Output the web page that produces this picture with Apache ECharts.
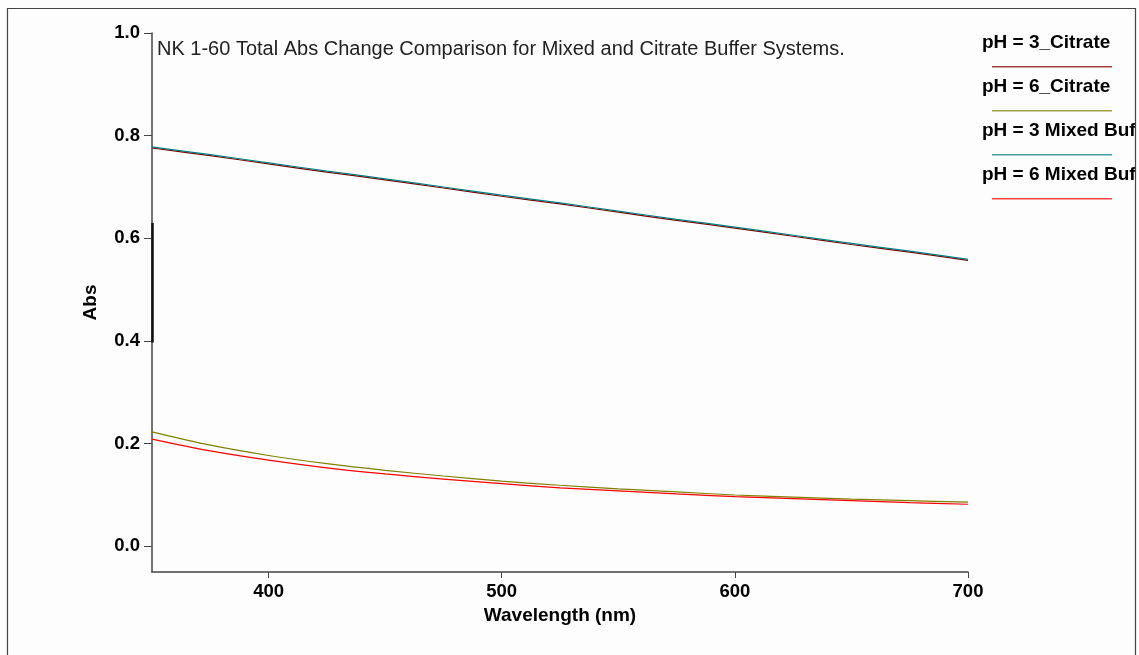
<!DOCTYPE html>
<html>
<head>
<meta charset="utf-8">
<title>NK 1-60 Total Abs Change</title>
<script src="https://cdn.jsdelivr.net/npm/echarts@6/dist/echarts.min.js"></script>
<style>
  html, body { margin: 0; padding: 0; background: #fdfdfd; }
  #chart { width: 1139px; height: 655px; }
</style>
</head>
<body>
<div id="chart"></div>
<script>
// Wavelength grid (nm) and absorbance per buffer system
const wavelengths = [350, 375, 400, 425, 450, 475, 500, 525, 550, 575, 600, 625, 650, 675, 700];
const ph3Citrate = [0.776, 0.761, 0.745, 0.729, 0.714, 0.698, 0.682, 0.667, 0.651, 0.635, 0.620, 0.604, 0.588, 0.573, 0.557];
const ph6Citrate = [0.223, 0.197, 0.177, 0.161, 0.148, 0.137, 0.127, 0.119, 0.112, 0.106, 0.100, 0.096, 0.092, 0.089, 0.086];
const ph3Mixed   = [0.778, 0.763, 0.747, 0.731, 0.716, 0.700, 0.684, 0.669, 0.653, 0.637, 0.622, 0.606, 0.590, 0.575, 0.559];
const ph6Mixed   = [0.209, 0.186, 0.168, 0.153, 0.141, 0.131, 0.122, 0.114, 0.108, 0.102, 0.097, 0.093, 0.089, 0.085, 0.082];

const seriesNames = ['pH = 3_Citrate', 'pH = 6_Citrate', 'pH = 3 Mixed Buffer', 'pH = 6 Mixed Buffer'];
const seriesValues = [ph3Citrate, ph6Citrate, ph3Mixed, ph6Mixed];
const seriesColors = ['#800000', '#808000', '#008080', '#ff0000'];

const xTicks = [400, 500, 600, 700];
const yTicks = [0, 0.2, 0.4, 0.6, 0.8, 1.0];

// heavier stretch of the Abs axis line
const axisMarkRange = [0.397, 0.63];

const titleText = 'NK 1-60 Total Abs Change Comparison for Mixed and Citrate Buffer Systems.';
const xName = 'Wavelength (nm)';
const yName = 'Abs';

const FONT = '"Liberation Sans", Arial, sans-serif';
const axisColor = '#444';

function pairs(values) {
  return wavelengths.map((w, i) => [w, values[i]]);
}

// draw the pH 6 pair first, then the pH 3 pair with mixed buffer above citrate
const drawOrder = [3, 1, 0, 2];
const series = drawOrder.map(i => ({
  name: seriesNames[i],
  type: 'line',
  data: pairs(seriesValues[i]),
  showSymbol: false,
  symbol: 'none',
  smooth: 0.3,
  color: seriesColors[i],
  lineStyle: { color: seriesColors[i], width: 1.2 },
  z: 2 + i,
  animation: false
}));

series[0].markLine = {
  silent: true,
  symbol: ['none', 'none'],
  label: { show: false },
  lineStyle: { color: '#111', width: 2.5, type: 'solid' },
  data: [[
    { coord: [wavelengths[0], axisMarkRange[0]] },
    { coord: [wavelengths[0], axisMarkRange[1]] }
  ]],
  animation: false
};

const chart = echarts.init(document.getElementById('chart'), null, { renderer: 'canvas' });

chart.setOption({
  backgroundColor: '#fdfdfd',
  animation: false,
  title: {
    text: titleText,
    left: 157,
    top: 39,
    padding: 0,
    textStyle: { fontFamily: FONT, fontSize: 20, fontWeight: 'normal', color: '#222' }
  },
  legend: [
    {
      // names
      data: seriesNames,
      orient: 'vertical',
      left: 977,
      top: 33,
      padding: 0,
      icon: 'none',
      itemWidth: 0,
      itemHeight: 0,
      itemGap: 24,
      selectedMode: false,
      textStyle: { fontFamily: FONT, fontSize: 19, fontWeight: 'bold', color: '#000', lineHeight: 20 }
    },
    {
      // sample strokes beneath each name
      data: seriesNames,
      orient: 'vertical',
      left: 992,
      top: 66,
      padding: 0,
      icon: 'rect',
      itemWidth: 120,
      itemHeight: 1.5,
      itemGap: 42.5,
      selectedMode: false,
      formatter: () => '',
      itemStyle: { opacity: 0.75 },
      textStyle: { fontSize: 1 }
    }
  ],
  grid: { left: 152, right: 171, top: 33, bottom: 83, containLabel: false },
  xAxis: {
    type: 'value',
    min: 350,
    max: 700,
    name: xName,
    nameLocation: 'middle',
    nameGap: 32,
    nameTextStyle: { fontFamily: FONT, fontSize: 19, fontWeight: 'bold', color: '#000' },
    axisLine: { show: true, onZero: false, lineStyle: { color: axisColor, width: 1.5 } },
    axisTick: { show: true, length: 6, customValues: xTicks, lineStyle: { color: axisColor, width: 1 } },
    axisLabel: {
      customValues: xTicks,
      margin: 10,
      fontFamily: FONT, fontSize: 18.5, fontWeight: 'bold', color: '#000'
    },
    splitLine: { show: false }
  },
  yAxis: {
    type: 'value',
    min: -0.05,
    max: 1.0,
    name: yName,
    nameLocation: 'middle',
    nameGap: 52,
    nameRotate: 90,
    nameTextStyle: { fontFamily: FONT, fontSize: 19, fontWeight: 'bold', color: '#000' },
    axisLine: { show: true, onZero: false, lineStyle: { color: axisColor, width: 1.5 } },
    axisTick: { show: true, length: 8, customValues: yTicks, lineStyle: { color: axisColor, width: 1 } },
    axisLabel: {
      customValues: yTicks,
      margin: 12,
      formatter: v => v.toFixed(1),
      fontFamily: FONT, fontSize: 18.5, fontWeight: 'bold', color: '#000'
    },
    splitLine: { show: false }
  },
  series: series,
  graphic: [
    {
      type: 'rect',
      z: 100,
      silent: true,
      shape: { x: 1136, y: 0, width: 10, height: 655 },
      style: { fill: '#fdfdfd' }
    },
    {
      type: 'rect',
      z: 101,
      silent: true,
      shape: { x: 7.5, y: 8.5, width: 1128, height: 700 },
      style: { fill: 'none', stroke: '#444', lineWidth: 1.2 }
    }
  ]
});
</script>
</body>
</html>
